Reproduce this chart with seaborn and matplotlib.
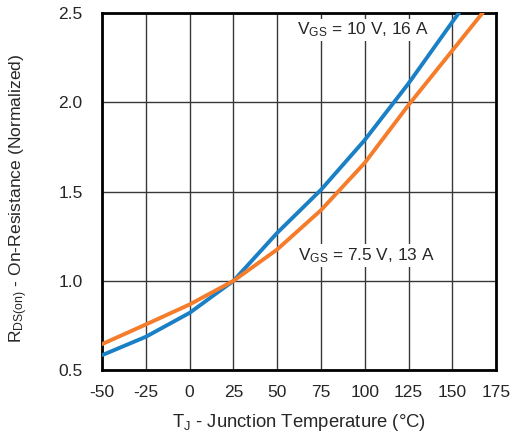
import numpy as np
import pandas as pd
import seaborn as sns
import matplotlib
matplotlib.use("Agg")
import matplotlib.pyplot as plt

# junction temperature (C)
temp = [-50, -25, 0, 25, 50, 75, 100, 125, 150, 175]
# normalized Rds(on)
rds_10v = [0.584, 0.687, 0.821, 1.0, 1.269, 1.51, 1.789, 2.106, 2.45, 2.79]
rds_75v = [0.646, 0.756, 0.868, 1.0, 1.176, 1.396, 1.661, 1.985, 2.29, 2.595]

df = pd.DataFrame({
    "temp": temp * 2,
    "rds": rds_10v + rds_75v,
    "cond": ["10V"] * len(temp) + ["7.5V"] * len(temp),
})

sns.set_style("white")
plt.rcParams["font.family"] = ["Liberation Sans", "DejaVu Sans"]
plt.rcParams["mathtext.default"] = "regular"
plt.rcParams["axes.unicode_minus"] = False

fig = plt.figure(figsize=(5.13, 4.36), dpi=100)
ax = fig.add_axes([0.199, 0.151, 0.768, 0.819])

sns.lineplot(data=df, x="temp", y="rds", hue="cond",
             palette={"10V": "#1a80c6", "7.5V": "#f57c2b"},
             linewidth=2.8, legend=False, ax=ax, zorder=3)

ax.set_xlim(-50, 175)
ax.set_ylim(0.5, 2.5)
ax.set_xticks(temp)
ax.set_xticklabels([str(t) for t in temp])
ax.set_yticks([0.5, 1.0, 1.5, 2.0, 2.5])
ax.set_yticklabels(["0.5", "1.0", "1.5", "2.0", "2.5"])
ax.grid(True, color="#383838", linewidth=1.0)
ax.set_axisbelow(True)
ax.tick_params(length=0, labelsize=12.5)
ax.tick_params(axis="x", pad=10.5)
ax.tick_params(axis="y", pad=14)
for s in ax.spines.values():
    s.set_color("black")
    s.set_linewidth(2)

ax.set_xlabel("T$_J$ - Junction Temperature (°C)", fontsize=13.3)
ax.set_ylabel("R$_{DS(on)}$ - On-Resistance (Normalized)", fontsize=12.6)
ax.xaxis.set_label_coords(0.5, -0.118)
ax.yaxis.set_label_coords(-0.183, 0.48)

box = dict(facecolor="white", edgecolor="none", pad=1.5)
ax.text(61.5, 2.405, "V$_{GS}$ = 10 V, 16 A", fontsize=12.4, va="center", ha="left",
        bbox=box, zorder=2)
ax.text(62, 1.144, "V$_{GS}$ = 7.5 V, 13 A", fontsize=12.4, va="center", ha="left",
        bbox=box, zorder=2)

fig.savefig("out.png", dpi=100)
